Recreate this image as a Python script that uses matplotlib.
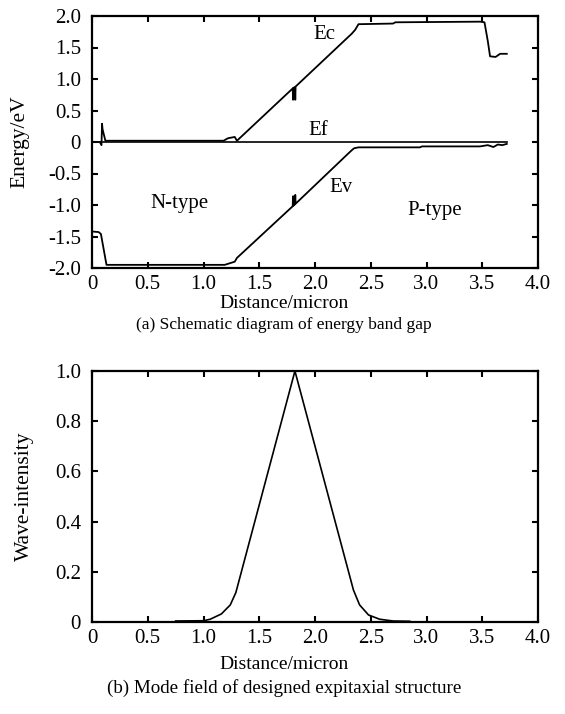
import numpy as np
import matplotlib
matplotlib.use("Agg")
import matplotlib.pyplot as plt
from matplotlib.ticker import FuncFormatter, MultipleLocator

plt.rcParams['font.family'] = ['Liberation Serif', 'DejaVu Serif']
plt.rcParams['font.size'] = 14
plt.rcParams['axes.unicode_minus'] = True

# conduction band (Ec)
ec_x = [0.0, 0.07, 0.085, 0.09, 0.095, 0.12, 1.18, 1.22, 1.28, 1.30,
        1.80, 1.803, 1.806, 1.82, 1.823, 1.826, 2.33, 2.36, 2.39, 2.70,
        2.72, 3.48, 3.52, 3.55, 3.57, 3.62, 3.66, 3.72]
ec_y = [0.0, 0.0, -0.05, 0.29, 0.20, 0.02, 0.02, 0.06, 0.08, 0.02,
        0.85, 0.67, 0.86, 0.87, 0.67, 0.88, 1.72, 1.78, 1.87, 1.88,
        1.90, 1.91, 1.90, 1.60, 1.36, 1.35, 1.40, 1.40]

# valence band (Ev)
ev_x = [0.0, 0.06, 0.08, 0.13, 1.19, 1.28, 1.30, 1.80, 1.803, 1.806,
        1.82, 1.823, 1.826, 2.30, 2.33, 2.35, 2.39, 2.94, 2.96, 3.48,
        3.55, 3.60, 3.64, 3.68, 3.72]
ev_y = [-1.42, -1.43, -1.46, -1.95, -1.95, -1.90, -1.84, -1.02, -0.86, -1.01,
        -0.99, -0.84, -0.98, -0.18, -0.13, -0.10, -0.085, -0.085, -0.07, -0.07,
        -0.05, -0.08, -0.04, -0.05, -0.03]

# Fermi level (Ef)
ef_x = [0.0, 3.72]
ef_y = [0.0, 0.0]

# mode field intensity
w_x = [0.75, 1.0, 1.06, 1.16, 1.24, 1.29, 1.82, 2.345, 2.40, 2.48, 2.58, 2.70, 2.85]
w_y = [0.004, 0.005, 0.011, 0.032, 0.068, 0.117, 1.0, 0.127, 0.068, 0.028, 0.011, 0.004, 0.003]


def fmt(v, pos):
    if abs(v) < 1e-9:
        return "0"
    return "%.1f" % v


def style_axes(ax):
    for s in ax.spines.values():
        s.set_linewidth(1.6)
    ax.tick_params(direction='in', top=True, right=True, length=4, width=1.5,
                   labelsize=15)
    ax.tick_params(axis='x', pad=5)
    ax.tick_params(axis='y', pad=8)
    ax.xaxis.set_major_locator(MultipleLocator(0.5))
    ax.xaxis.set_major_formatter(FuncFormatter(fmt))
    ax.yaxis.set_major_formatter(FuncFormatter(fmt))
    ax.set_xlim(0, 4.0)


fig = plt.figure(figsize=(5.65, 7.14), dpi=100)

ax1 = fig.add_axes([92 / 565, 1 - 268 / 714, 446 / 565, 252 / 714])
ax1.plot(ec_x, ec_y, color='black', lw=1.3)
ax1.plot(ev_x, ev_y, color='black', lw=1.3)
ax1.plot(ef_x, ef_y, color='black', lw=1.2)
style_axes(ax1)
ax1.set_ylim(-2.0, 2.0)
ax1.yaxis.set_major_locator(MultipleLocator(0.5))
ax1.set_ylabel("Energy/eV", fontsize=15.5)
ax1.yaxis.set_label_coords(-0.14, 0.5)
ax1.text(2.08, 1.71, "Ec", ha='center', va='center', fontsize=15)
ax1.text(2.03, 0.19, "Ef", ha='center', va='center', fontsize=15)
ax1.text(2.23, -0.73, "Ev", ha='center', va='center', fontsize=15)
ax1.text(0.785, -0.98, "N-type", ha='center', va='center', fontsize=15)
ax1.text(3.07, -1.08, "P-type", ha='center', va='center', fontsize=15)

ax2 = fig.add_axes([92 / 565, 1 - 622 / 714, 446 / 565, 251 / 714])
ax2.plot(w_x, w_y, color='black', lw=1.2)
style_axes(ax2)
ax2.set_ylim(0, 1.0)
ax2.yaxis.set_major_locator(MultipleLocator(0.2))
ax2.set_ylabel("Wave-intensity", fontsize=15.5)
ax2.yaxis.set_label_coords(-0.13, 0.5)

fig.text(284 / 565, 1 - 308 / 714, "Distance/micron", ha='center', va='baseline')
fig.text(284 / 565, 1 - 329 / 714, "(a) Schematic diagram of energy band gap",
         ha='center', va='baseline', fontsize=12.5)
fig.text(284 / 565, 1 - 669 / 714, "Distance/micron", ha='center', va='baseline')
fig.text(284 / 565, 1 - 693 / 714, "(b) Mode field of designed expitaxial structure",
         ha='center', va='baseline', fontsize=13.7)

fig.savefig("out.png", dpi=100)
